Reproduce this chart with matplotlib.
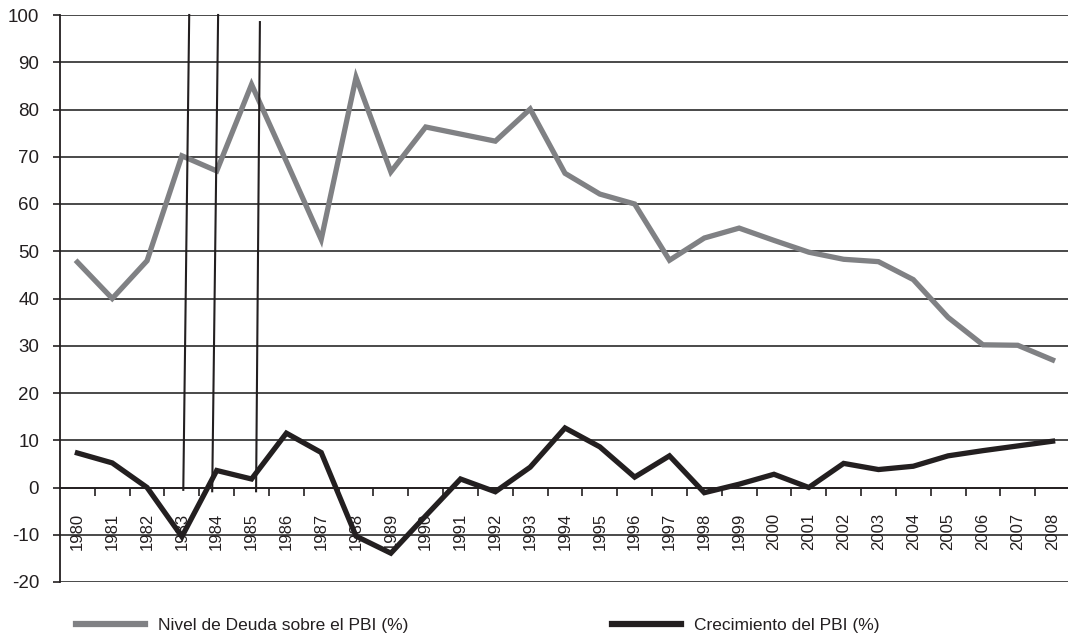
"""Deuda publica y crecimiento del PBI, 1980-2008."""

import matplotlib

matplotlib.use("Agg")
import matplotlib.pyplot as plt
from matplotlib.lines import Line2D

years = [str(y) for y in range(1980, 2009)]

debt_ratio = [
    47.7, 40.0, 48.0, 70.2, 67.0, 85.3, 69.0, 52.5, 86.8, 66.8,
    76.3, 74.8, 73.3, 80.1, 66.5, 62.1, 60.0, 48.1, 52.8, 54.9,
    52.3, 49.8, 48.3, 47.8, 44.0, 36.0, 30.2, 30.1, 27.0,
]
gdp_growth = [
    7.3, 5.2, 0.0, -10.4, 3.6, 1.8, 11.5, 7.4, -10.3, -13.9,
    -6.0, 1.8, -0.9, 4.3, 12.6, 8.6, 2.2, 6.7, -1.1, 0.7,
    2.8, 0.0, 5.1, 3.8, 4.5, 6.7, 7.8, 8.8, 9.8,
]

# thin marker strokes drawn over the chart (category position, value)
stroke_top_x = [3.21, 4.04, 5.24]
stroke_bottom_x = [3.04, 3.87, 5.13]
stroke_top_y = [100.0, 100.0, 98.5]
stroke_bottom_y = [-0.5, -0.8, -0.8]

y_ticks = list(range(-20, 101, 10))
debt_label = "Nivel de Deuda sobre el PBI (%)"
growth_label = "Crecimiento del PBI (%)"

GRAY = "#808184"
BLACK = "#231f20"

plt.rcParams["font.family"] = ["Liberation Sans", "DejaVu Sans"]

fig = plt.figure(figsize=(10.68, 6.42), dpi=100)
ax = fig.add_axes([60 / 1068, 1 - 582 / 642, 1010 / 1068, 567 / 642])

x = list(range(len(years)))
ax.set_xlim(-0.5, len(years) - 0.5)
ax.set_ylim(-20, 100)

for yv in y_ticks:
    ax.axhline(yv, color="#3a3a3a", linewidth=1.3, zorder=1)

ax.plot(x, debt_ratio, color=GRAY, linewidth=3.8, solid_joinstyle="miter", zorder=3)
ax.plot(x, gdp_growth, color=BLACK, linewidth=3.8, solid_joinstyle="miter", zorder=3)

for x0, x1, y0, y1 in zip(stroke_bottom_x, stroke_top_x, stroke_bottom_y, stroke_top_y):
    ax.plot([x0, x1], [y0, y1], color=BLACK, linewidth=1.5, zorder=4, clip_on=False)

ax.spines["top"].set_visible(False)
ax.spines["right"].set_visible(False)
ax.spines["left"].set_color(BLACK)
ax.spines["left"].set_linewidth(1.3)
ax.spines["bottom"].set_position(("data", 0))
ax.spines["bottom"].set_color(BLACK)
ax.spines["bottom"].set_linewidth(1.3)

ax.set_yticks(y_ticks)
ax.set_yticklabels([str(v) for v in y_ticks])
ax.tick_params(axis="y", length=5, width=1.2, color=BLACK, pad=10,
               labelsize=13.5, labelcolor=BLACK)

ax.set_xticks([i + 0.5 for i in range(len(years) - 1)])
ax.set_xticklabels([])
ax.set_xticks(x, minor=True)
ax.set_xticklabels(years, minor=True, rotation=90)
ax.tick_params(axis="x", which="major", length=6, width=1.2, color=BLACK, direction="out")
ax.tick_params(axis="x", which="minor", length=0, pad=18, labelsize=12, labelcolor=BLACK)

legend_style = dict(
    loc="center left",
    frameon=False,
    fontsize=12.5,
    handlelength=4.0,
    handletextpad=0.7,
    borderpad=0,
    borderaxespad=0,
    labelcolor=BLACK,
)
fig.legend(
    handles=[Line2D([], [], color=GRAY, linewidth=4.5)],
    labels=[debt_label],
    bbox_to_anchor=(76 / 1068, 1 - 625 / 642),
    **legend_style,
)
fig.legend(
    handles=[Line2D([], [], color=BLACK, linewidth=4.5)],
    labels=[growth_label],
    bbox_to_anchor=(612 / 1068, 1 - 625 / 642),
    **legend_style,
)

fig.savefig("out.png", dpi=100)
